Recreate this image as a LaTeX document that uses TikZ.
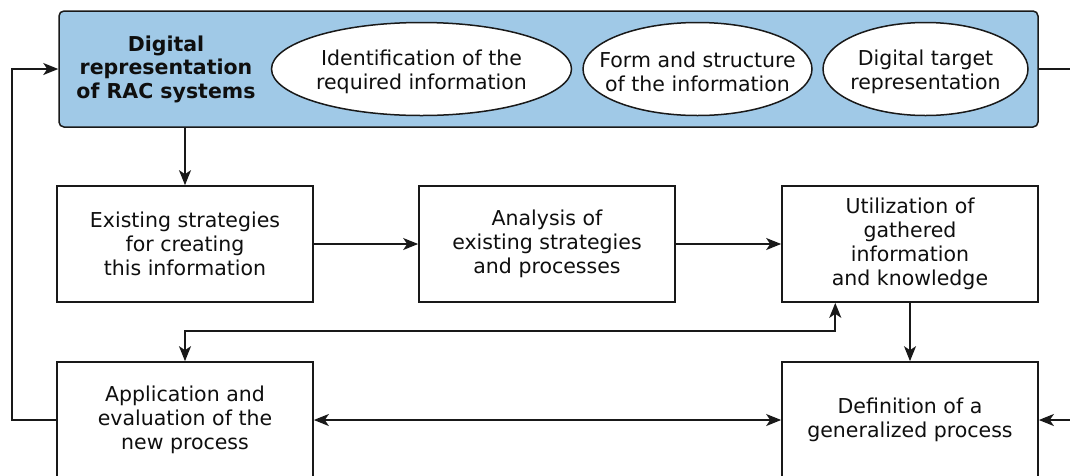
\documentclass[tikz,border=0pt]{standalone}
\usepackage{fontspec}
\setmainfont{DejaVu Sans}
\usetikzlibrary{arrows.meta,shapes.geometric,calc}

\definecolor{panelblue}{RGB}{160,201,231}
\definecolor{inkline}{RGB}{25,25,25}
\definecolor{inktext}{RGB}{15,15,15}

\tikzset{
  txt/.style={font=\fontsize{20.5}{24}\selectfont, text=inktext, align=center},
  procbox/.style={txt, draw=inkline, line width=1.7pt, fill=white,
    minimum width=256pt, minimum height=116pt, inner sep=0pt},
  topic/.style={ellipse, draw=inkline, line width=1.5pt, fill=white,
    minimum height=93pt, inner sep=0pt},
  tip/.tip={Stealth[length=15pt,width=12pt,inset=4pt]},
  flow/.style={draw=inkline, line width=1.7pt, -tip},
  flowboth/.style={draw=inkline, line width=1.7pt, tip-tip},
  plain/.style={draw=inkline, line width=1.7pt}
}

\begin{document}
\begin{tikzpicture}[x=1pt, y=-1pt]
\useasboundingbox (0,0) rectangle (1070,475);
\clip (0,0) rectangle (1070,475);
\fill[white] (0,0) rectangle (1070,475);

% top panel with its three topics
\node[draw=inkline, line width=1.5pt, fill=panelblue, rounded corners=5pt,
      minimum width=979pt, minimum height=116pt, inner sep=0pt]
      (panel) at (548.5,69) {};
\node[txt, font=\fontsize{20.5}{23.5}\selectfont\bfseries] (title) at (166,69)
      {Digital\\representation\\of RAC systems};

\node[topic, minimum width=300pt] (ident) at (421.5,69) {};
\node[txt] (identtext) at ([yshift=-2.5pt]ident.center) {Identification of the\\required information};
\node[topic, minimum width=229pt] (form) at (697.5,69) {};
\node[txt] (formtext) at ([yshift=-2.5pt]form.center) {Form and structure\\of the information};
\node[topic, minimum width=205pt] (target) at (925.5,69) {};
\node[txt] (targettext) at ([yshift=-2.5pt]target.center) {Digital target\\representation};

% middle row
\node[procbox] (exist) at (185,244)
      {Existing strategies\\for creating\\this information};
\node[procbox] (analysis) at (547,244)
      {Analysis of\\existing strategies\\and processes};
\node[procbox] (util) at (910,244)
      {Utilization of\\gathered\\information\\and knowledge};

% bottom row
\node[procbox] (apply) at (185,420)
      {Application and\\evaluation of the\\new process};
\node[procbox] (define) at (910,420)
      {Definition of a\\generalized process};

% free ends of the open connectors
\coordinate (outR) at (1075,69);
\coordinate (inR) at (1075,420);
\coordinate (utilIn) at ($(util.south west)!0.21!(util.south east)$);

% connectors
\draw[flow] (panel.south -| exist.north) -- (exist.north);
\draw[flow] (exist.east) -- (analysis.west);
\draw[flow] (analysis.east) -- (util.west);
\draw[flow] (util.south) -- (define.north);
\draw[flowboth] (apply.north) -- ++(0,-30) -| (utilIn);
\draw[flowboth] (apply.east) -- (define.west);
\draw[flow] (inR) -- (define.east);
\draw[plain] (panel.east) -- (outR);
\draw[flow] (apply.west) -- ++(-44,0) |- (panel.west);
\end{tikzpicture}
\end{document}
